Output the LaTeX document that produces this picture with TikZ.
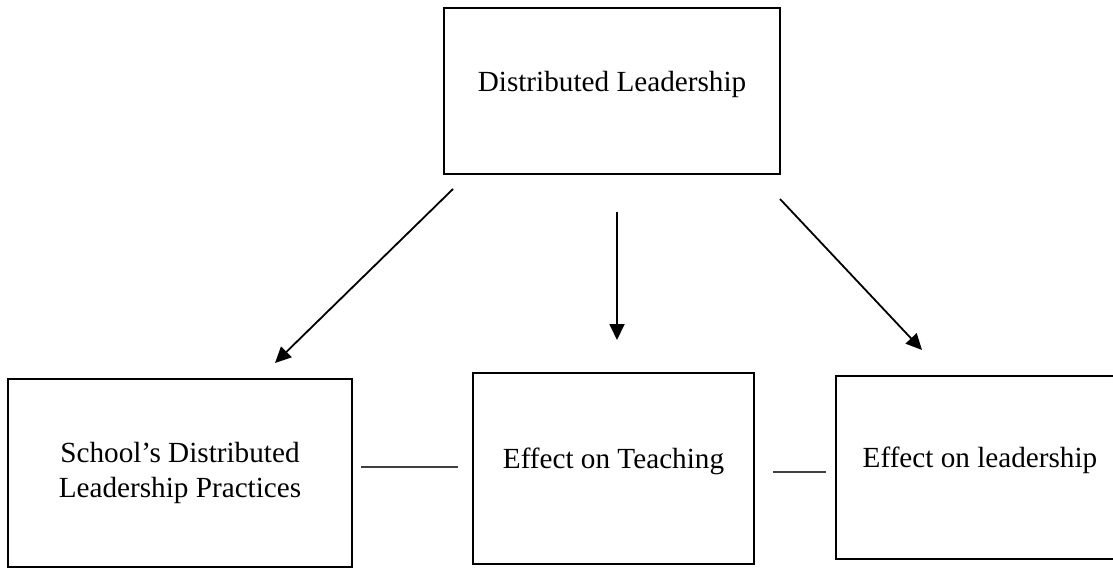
\documentclass[tikz,border=0pt]{standalone}
\usepackage{fontspec}
\setmainfont{Liberation Serif}
\usetikzlibrary{arrows.meta,calc}
\definecolor{Ink}{HTML}{000000}
\definecolor{Rule}{HTML}{404040}

\begin{document}
\begin{tikzpicture}[x=0.5pt,y=-0.5pt,
  every node/.style={font=\fontsize{14.6}{17.5}\selectfont,text=Ink},
  box/.style={draw=Ink,line width=1pt,rectangle,inner sep=0pt},
  oneline/.style={text height=0pt,text depth=0pt},
  flow/.style={Ink,line width=0.9pt,-{Triangle[length=8pt,width=7.5pt]}},
  link/.style={Rule,line width=0.7pt}]
\useasboundingbox (0,0) rectangle (1113,568);
\clip (0,0) rectangle (1113,568);
\node[box,oneline,minimum width=168pt,minimum height=83pt] (dl) at (612,91) {Distributed Leadership};
\node[box,align=center,minimum width=172pt,minimum height=94pt] (sch) at (180,473) {School's Distributed\\Leadership Practices};
\node[box,oneline,minimum width=140.5pt,minimum height=95.5pt] (teach) at (613.5,468.5) {Effect on Teaching};
\node[box,oneline,minimum width=144pt,minimum height=91.5pt] (lead) at (980,467.5) {Effect on leadership};
\draw[flow] ($(dl.south west)+(10,14)$) -- ($(sch.north east)+(-78,-15)$);
\draw[flow] ($(dl.south)+(5,37)$) -- ($(teach.north)+(3.5,-32)$);
\draw[flow] ($(dl.south east)+(-1,24)$) -- ($(lead.north west)+(87,-25)$);
\draw[link] ($(sch.east)+(8,-6)$) -- ($(teach.west)+(-14,-1.5)$);
\draw[link] ($(teach.east)+(18,3.5)$) -- ($(lead.west)+(-9,4.5)$);
\end{tikzpicture}
\end{document}
